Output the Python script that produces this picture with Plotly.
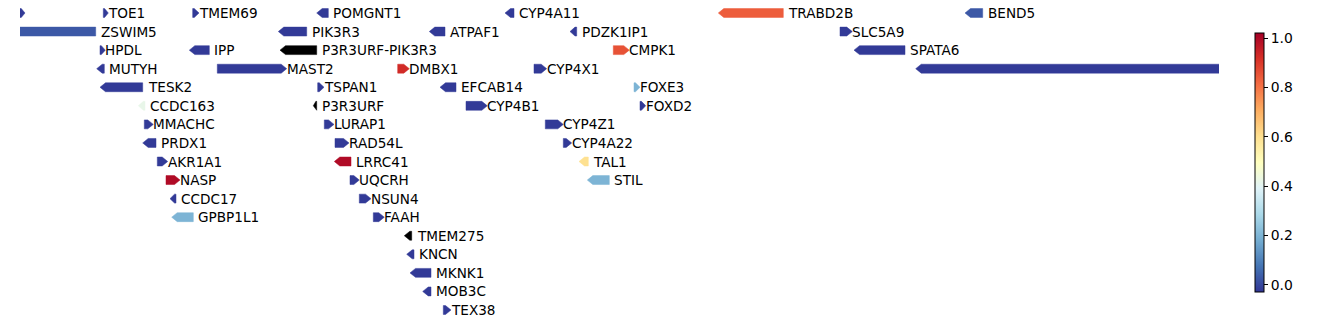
import plotly.graph_objects as go
from plotly.colors import sample_colorscale
import plotly.express as px

# ---------------- data ----------------
names = ["", "TOE1", "TMEM69", "POMGNT1", "CYP4A11", "TRABD2B", "BEND5",
         "ZSWIM5", "PIK3R3", "ATPAF1", "PDZK1IP1", "SLC5A9",
         "HPDL", "IPP", "P3R3URF-PIK3R3", "CMPK1", "SPATA6",
         "MUTYH", "MAST2", "DMBX1", "CYP4X1", "",
         "TESK2", "TSPAN1", "EFCAB14", "FOXE3",
         "CCDC163", "P3R3URF", "CYP4B1", "FOXD2",
         "MMACHC", "LURAP1", "CYP4Z1",
         "PRDX1", "RAD54L", "CYP4A22",
         "AKR1A1", "LRRC41", "TAL1",
         "NASP", "UQCRH", "STIL",
         "CCDC17", "NSUN4",
         "GPBP1L1", "FAAH",
         "TMEM275", "KNCN", "MKNK1", "MOB3C", "TEX38"]
starts = [20, 103.3, 192.7, 316.7, 505, 718.3, 965,
          5, 278.3, 429.3, 570, 840,
          100, 189.3, 280, 613.3, 854,
          96.7, 217.3, 397.7, 534, 915.7,
          100, 317.7, 440, 634,
          138.3, 313.3, 466, 640,
          144.3, 324.3, 545.3,
          142.7, 335, 563.3,
          157.3, 334.3, 579,
          166, 350, 587.3,
          170, 359.3,
          171.7, 373.3,
          404.3, 406.7, 410, 422.7, 443.3]
ends = [25, 108.3, 199, 328.3, 514, 783.3, 982.7,
        95.7, 306.7, 445, 576.7, 852.3,
        105.3, 209.3, 316.7, 629.3, 905,
        104.3, 286.7, 409.3, 546.7, 1300,
        142.7, 324, 456, 640,
        145, 316.7, 487.3, 645.7,
        153.3, 334, 563.3,
        156, 349, 571.7,
        167.7, 351, 588.3,
        180, 359.3, 609.3,
        176, 371,
        193.3, 384.3,
        411.7, 414, 431, 431, 451]
strands = ["+", "+", "+", "-", "-", "-", "-",
           "-", "-", "-", "-", "+",
           "+", "-", "-", "+", "-",
           "-", "+", "+", "+", "-",
           "-", "+", "-", "+",
           "-", "-", "+", "+",
           "+", "+", "+",
           "-", "+", "+",
           "+", "-", "-",
           "+", "+", "-",
           "-", "+",
           "-", "+",
           "-", "-", "-", "-", "+"]
rows = [0, 0, 0, 0, 0, 0, 0,
        1, 1, 1, 1, 1,
        2, 2, 2, 2, 2,
        3, 3, 3, 3, 3,
        4, 4, 4, 4,
        5, 5, 5, 5,
        6, 6, 6,
        7, 7, 7,
        8, 8, 8,
        9, 9, 9,
        10, 10,
        11, 11,
        12, 13, 14, 15, 16]
values = [-0.02, -0.02, -0.02, -0.02, -0.02, 0.84, 0.03,
          0.03, -0.02, -0.02, -0.02, -0.02,
          -0.02, -0.02, None, 0.86, -0.02,
          -0.02, -0.02, 0.93, -0.02, -0.02,
          -0.02, -0.02, -0.02, 0.2,
          0.42, None, -0.02, -0.02,
          -0.02, -0.02, -0.02,
          -0.02, -0.02, -0.02,
          -0.02, 1.0, 0.6,
          1.0, -0.02, 0.2,
          -0.02, -0.02,
          0.2, -0.02,
          None, -0.02, -0.02, -0.02, -0.02]
cbar_ticks = [0.0, 0.2, 0.4, 0.6, 0.8, 1.0]
vmin, vmax = -0.027, 1.023

# ---------------- style ----------------
FONT = "DejaVu Sans"
FSIZE = 13.6
W, H = 1338, 324
XMIN, XMAX = 20, 1219
ML, MR = 20, W - 1219
half_h = 0.24          # half arrow height in row units
head = 5.5             # arrow head length in x units
colorscale = px.colors.diverging.RdYlBu[::-1]

def color_for(v):
    if v is None:
        return "#000000"
    f = (v - vmin) / (vmax - vmin)
    f = min(max(f, 0), 1)
    return sample_colorscale(colorscale, [f])[0]

fig = go.Figure()
annotations = []
for n, s, e, st, r, v in zip(names, starts, ends, strands, rows, values):
    L = e - s
    h = min(head, L * 0.75)
    if st == "+":
        xs = [s, e - h, e, e - h, s, s]
    else:
        xs = [e, s + h, s, s + h, e, e]
    ys = [r - half_h, r - half_h, r, r + half_h, r + half_h, r - half_h]
    c = color_for(v)
    fig.add_trace(go.Scatter(x=xs, y=ys, mode="lines", fill="toself",
                             fillcolor=c, line=dict(color=c, width=0.5),
                             hoverinfo="text", text=n, showlegend=False))
    if n:
        annotations.append(dict(x=e, y=r, xref="x", yref="y", text=n,
                                showarrow=False, xanchor="left", yanchor="middle",
                                xshift=(-2 if st == "+" else 3), yshift=0,
                                font=dict(family=FONT, size=FSIZE, color="black")))

# colorbar carrier
fig.add_trace(go.Scatter(x=[-1000, -1000], y=[0, 0], mode="markers",
                         marker=dict(color=[vmin, vmax], colorscale=colorscale,
                                     cmin=vmin, cmax=vmax, size=1, showscale=True,
                                     colorbar=dict(
                                         x=(1255 - XMIN) / (XMAX - XMIN), xanchor="left",
                                         xpad=0, ypad=0,
                                         y=0.5, yanchor="middle", len=259 / H,
                                         lenmode="fraction",
                                         thickness=9, thicknessmode="pixels",
                                         outlinewidth=1, outlinecolor="black",
                                         ticks="outside", ticklen=4, tickwidth=1,
                                         tickcolor="black",
                                         tickvals=cbar_ticks, tickformat=".1f",
                                         tickfont=dict(family=FONT, size=FSIZE + 0.3, color="black"))),
                         hoverinfo="skip", showlegend=False))

row_px0 = 13.0
row_step = (310.0 - 13.0) / 16
y_top = -row_px0 / row_step
y_bot = (H - row_px0) / row_step

fig.update_layout(
    width=W, height=H,
    margin=dict(l=ML, r=MR, t=0, b=0, pad=0),
    paper_bgcolor="white", plot_bgcolor="white",
    xaxis=dict(range=[XMIN, XMAX], visible=False, showgrid=False, zeroline=False),
    yaxis=dict(range=[y_bot, y_top], visible=False, showgrid=False, zeroline=False),
    annotations=annotations,
    font=dict(family=FONT, size=FSIZE),
)

fig.write_html("out.html")
